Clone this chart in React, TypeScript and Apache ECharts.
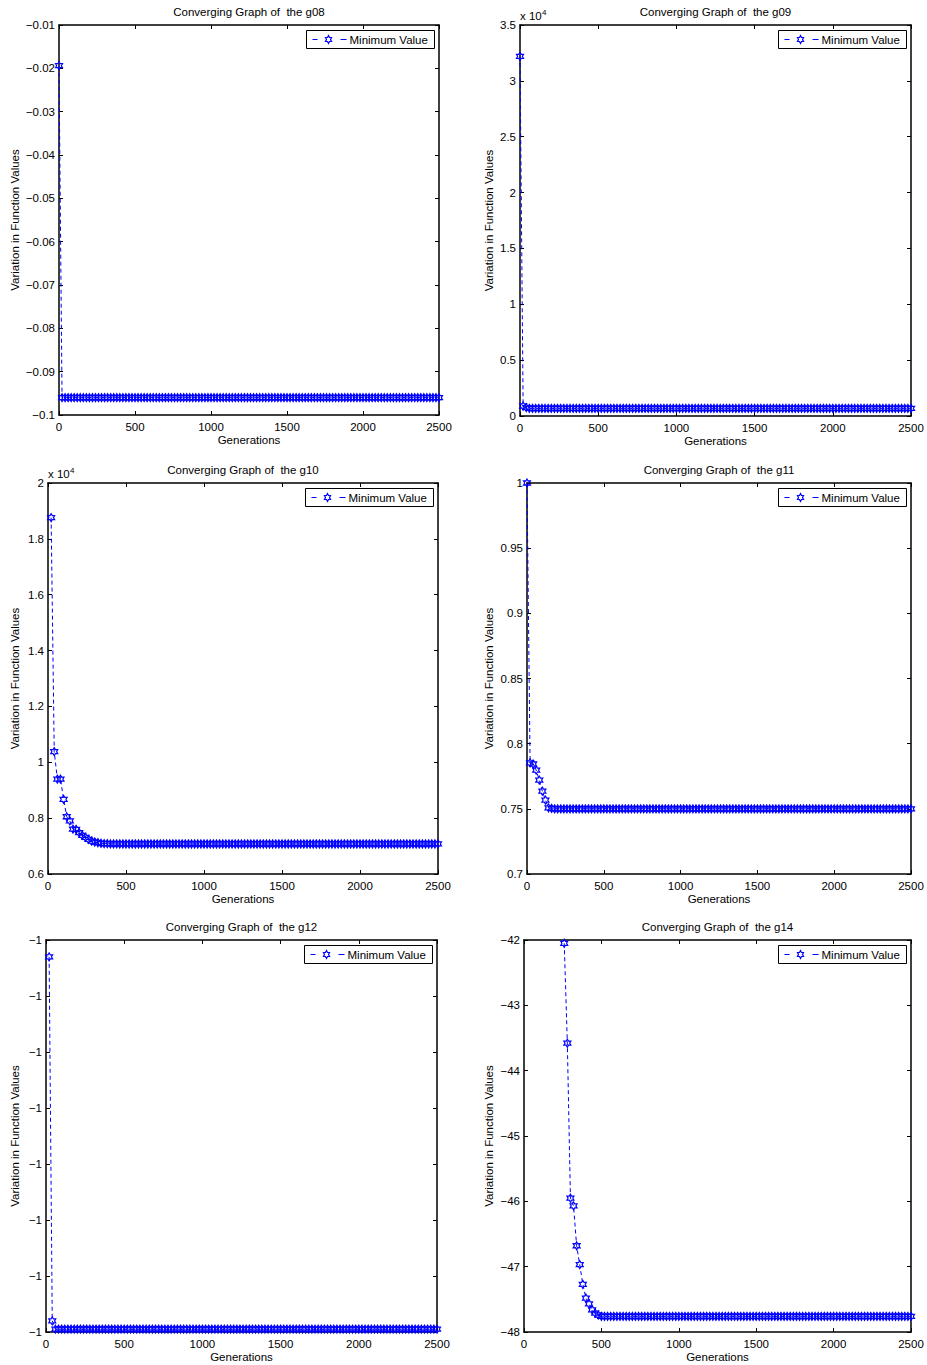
import React, { useEffect, useRef } from 'react';
import * as echarts from 'echarts';

// ---------- DATA ----------
const generations = [
  0, 20, 40, 60, 80, 100, 120, 140, 160, 180,
  200, 220, 240, 260, 280, 300, 320, 340, 360, 380,
  400, 420, 440, 460, 480, 500, 520, 540, 560, 580,
  600, 620, 640, 660, 680, 700, 720, 740, 760, 780,
  800, 820, 840, 860, 880, 900, 920, 940, 960, 980,
  1000, 1020, 1040, 1060, 1080, 1100, 1120, 1140, 1160, 1180,
  1200, 1220, 1240, 1260, 1280, 1300, 1320, 1340, 1360, 1380,
  1400, 1420, 1440, 1460, 1480, 1500, 1520, 1540, 1560, 1580,
  1600, 1620, 1640, 1660, 1680, 1700, 1720, 1740, 1760, 1780,
  1800, 1820, 1840, 1860, 1880, 1900, 1920, 1940, 1960, 1980,
  2000, 2020, 2040, 2060, 2080, 2100, 2120, 2140, 2160, 2180,
  2200, 2220, 2240, 2260, 2280, 2300, 2320, 2340, 2360, 2380,
  2400, 2420, 2440, 2460, 2480, 2500,
];

const g08Values = [
  -0.0194, -0.096, -0.096, -0.096, -0.096, -0.096, -0.096, -0.096, -0.096, -0.096,
  -0.096, -0.096, -0.096, -0.096, -0.096, -0.096, -0.096, -0.096, -0.096, -0.096,
  -0.096, -0.096, -0.096, -0.096, -0.096, -0.096, -0.096, -0.096, -0.096, -0.096,
  -0.096, -0.096, -0.096, -0.096, -0.096, -0.096, -0.096, -0.096, -0.096, -0.096,
  -0.096, -0.096, -0.096, -0.096, -0.096, -0.096, -0.096, -0.096, -0.096, -0.096,
  -0.096, -0.096, -0.096, -0.096, -0.096, -0.096, -0.096, -0.096, -0.096, -0.096,
  -0.096, -0.096, -0.096, -0.096, -0.096, -0.096, -0.096, -0.096, -0.096, -0.096,
  -0.096, -0.096, -0.096, -0.096, -0.096, -0.096, -0.096, -0.096, -0.096, -0.096,
  -0.096, -0.096, -0.096, -0.096, -0.096, -0.096, -0.096, -0.096, -0.096, -0.096,
  -0.096, -0.096, -0.096, -0.096, -0.096, -0.096, -0.096, -0.096, -0.096, -0.096,
  -0.096, -0.096, -0.096, -0.096, -0.096, -0.096, -0.096, -0.096, -0.096, -0.096,
  -0.096, -0.096, -0.096, -0.096, -0.096, -0.096, -0.096, -0.096, -0.096, -0.096,
  -0.096, -0.096, -0.096, -0.096, -0.096, -0.096,
];

const g09Values = [
  32200, 895, 745, 690, 690, 690, 690, 690, 690, 690,
  690, 690, 690, 690, 690, 690, 690, 690, 690, 690,
  690, 690, 690, 690, 690, 690, 690, 690, 690, 690,
  690, 690, 690, 690, 690, 690, 690, 690, 690, 690,
  690, 690, 690, 690, 690, 690, 690, 690, 690, 690,
  690, 690, 690, 690, 690, 690, 690, 690, 690, 690,
  690, 690, 690, 690, 690, 690, 690, 690, 690, 690,
  690, 690, 690, 690, 690, 690, 690, 690, 690, 690,
  690, 690, 690, 690, 690, 690, 690, 690, 690, 690,
  690, 690, 690, 690, 690, 690, 690, 690, 690, 690,
  690, 690, 690, 690, 690, 690, 690, 690, 690, 690,
  690, 690, 690, 690, 690, 690, 690, 690, 690, 690,
  690, 690, 690, 690, 690, 690,
];

const g10Values = [
  null, 18760, 10380, 9400, 9400, 8675, 8050, 7900, 7610, 7600,
  7480, 7386, 7310, 7240, 7180, 7146, 7120, 7100, 7090, 7085,
  7080, 7078, 7076, 7075, 7075, 7075, 7075, 7075, 7075, 7075,
  7075, 7075, 7075, 7075, 7075, 7075, 7075, 7075, 7075, 7075,
  7075, 7075, 7075, 7075, 7075, 7075, 7075, 7075, 7075, 7075,
  7075, 7075, 7075, 7075, 7075, 7075, 7075, 7075, 7075, 7075,
  7075, 7075, 7075, 7075, 7075, 7075, 7075, 7075, 7075, 7075,
  7075, 7075, 7075, 7075, 7075, 7075, 7075, 7075, 7075, 7075,
  7075, 7075, 7075, 7075, 7075, 7075, 7075, 7075, 7075, 7075,
  7075, 7075, 7075, 7075, 7075, 7075, 7075, 7075, 7075, 7075,
  7075, 7075, 7075, 7075, 7075, 7075, 7075, 7075, 7075, 7075,
  7075, 7075, 7075, 7075, 7075, 7075, 7075, 7075, 7075, 7075,
  7075, 7075, 7075, 7075, 7075, 7075,
];

const g11Values = [
  1.0, 0.7853, 0.7844, 0.7797, 0.772, 0.7636, 0.7567, 0.7508, 0.7504, 0.75,
  0.75, 0.75, 0.75, 0.75, 0.75, 0.75, 0.75, 0.75, 0.75, 0.75,
  0.75, 0.75, 0.75, 0.75, 0.75, 0.75, 0.75, 0.75, 0.75, 0.75,
  0.75, 0.75, 0.75, 0.75, 0.75, 0.75, 0.75, 0.75, 0.75, 0.75,
  0.75, 0.75, 0.75, 0.75, 0.75, 0.75, 0.75, 0.75, 0.75, 0.75,
  0.75, 0.75, 0.75, 0.75, 0.75, 0.75, 0.75, 0.75, 0.75, 0.75,
  0.75, 0.75, 0.75, 0.75, 0.75, 0.75, 0.75, 0.75, 0.75, 0.75,
  0.75, 0.75, 0.75, 0.75, 0.75, 0.75, 0.75, 0.75, 0.75, 0.75,
  0.75, 0.75, 0.75, 0.75, 0.75, 0.75, 0.75, 0.75, 0.75, 0.75,
  0.75, 0.75, 0.75, 0.75, 0.75, 0.75, 0.75, 0.75, 0.75, 0.75,
  0.75, 0.75, 0.75, 0.75, 0.75, 0.75, 0.75, 0.75, 0.75, 0.75,
  0.75, 0.75, 0.75, 0.75, 0.75, 0.75, 0.75, 0.75, 0.75, 0.75,
  0.75, 0.75, 0.75, 0.75, 0.75, 0.75,
];

const g12Values = [
  null, -0.99946, -1.00076, -1.00079, -1.00079, -1.00079, -1.00079, -1.00079, -1.00079, -1.00079,
  -1.00079, -1.00079, -1.00079, -1.00079, -1.00079, -1.00079, -1.00079, -1.00079, -1.00079, -1.00079,
  -1.00079, -1.00079, -1.00079, -1.00079, -1.00079, -1.00079, -1.00079, -1.00079, -1.00079, -1.00079,
  -1.00079, -1.00079, -1.00079, -1.00079, -1.00079, -1.00079, -1.00079, -1.00079, -1.00079, -1.00079,
  -1.00079, -1.00079, -1.00079, -1.00079, -1.00079, -1.00079, -1.00079, -1.00079, -1.00079, -1.00079,
  -1.00079, -1.00079, -1.00079, -1.00079, -1.00079, -1.00079, -1.00079, -1.00079, -1.00079, -1.00079,
  -1.00079, -1.00079, -1.00079, -1.00079, -1.00079, -1.00079, -1.00079, -1.00079, -1.00079, -1.00079,
  -1.00079, -1.00079, -1.00079, -1.00079, -1.00079, -1.00079, -1.00079, -1.00079, -1.00079, -1.00079,
  -1.00079, -1.00079, -1.00079, -1.00079, -1.00079, -1.00079, -1.00079, -1.00079, -1.00079, -1.00079,
  -1.00079, -1.00079, -1.00079, -1.00079, -1.00079, -1.00079, -1.00079, -1.00079, -1.00079, -1.00079,
  -1.00079, -1.00079, -1.00079, -1.00079, -1.00079, -1.00079, -1.00079, -1.00079, -1.00079, -1.00079,
  -1.00079, -1.00079, -1.00079, -1.00079, -1.00079, -1.00079, -1.00079, -1.00079, -1.00079, -1.00079,
  -1.00079, -1.00079, -1.00079, -1.00079, -1.00079, -1.00079,
];

const g14Values = [
  null, null, null, null, null, null, null, null, null, null,
  null, null, null, -42.05, -43.58, -45.95, -46.07, -46.68, -46.97, -47.27,
  -47.48, -47.57, -47.66, -47.71, -47.74, -47.76, -47.76, -47.76, -47.76, -47.76,
  -47.76, -47.76, -47.76, -47.76, -47.76, -47.76, -47.76, -47.76, -47.76, -47.76,
  -47.76, -47.76, -47.76, -47.76, -47.76, -47.76, -47.76, -47.76, -47.76, -47.76,
  -47.76, -47.76, -47.76, -47.76, -47.76, -47.76, -47.76, -47.76, -47.76, -47.76,
  -47.76, -47.76, -47.76, -47.76, -47.76, -47.76, -47.76, -47.76, -47.76, -47.76,
  -47.76, -47.76, -47.76, -47.76, -47.76, -47.76, -47.76, -47.76, -47.76, -47.76,
  -47.76, -47.76, -47.76, -47.76, -47.76, -47.76, -47.76, -47.76, -47.76, -47.76,
  -47.76, -47.76, -47.76, -47.76, -47.76, -47.76, -47.76, -47.76, -47.76, -47.76,
  -47.76, -47.76, -47.76, -47.76, -47.76, -47.76, -47.76, -47.76, -47.76, -47.76,
  -47.76, -47.76, -47.76, -47.76, -47.76, -47.76, -47.76, -47.76, -47.76, -47.76,
  -47.76, -47.76, -47.76, -47.76, -47.76, -47.76,
];

const panelTitles = [
  'Converging Graph of  the g08',
  'Converging Graph of  the g09',
  'Converging Graph of  the g10',
  'Converging Graph of  the g11',
  'Converging Graph of  the g12',
  'Converging Graph of  the g14',
];
const xAxisTitle = 'Generations';
const yAxisTitle = 'Variation in Function Values';
const legendLabel = 'Minimum Value';

// ---------- STYLE / LAYOUT ----------
const FONT = '"Liberation Sans", Arial, Helvetica, sans-serif';
const FS = 11.5;
const BLUE = '#0000ff';
const HEX =
  'path://M50 0L64.43 25L93.3 25L78.87 50L93.3 75L64.43 75L50 100L35.57 75L6.7 75L21.13 50L6.7 25L35.57 25Z';

const MINUS = '\u2212';
function fmtNum(v: number, scale = 1): string {
  const s = String(parseFloat((v / scale).toFixed(6)));
  return s.replace('-', MINUS);
}

type Panel = {
  values: (number | null)[];
  left: number;
  top: number;
  width: number;
  height: number;
  ymin: number;
  ymax: number;
  yint: number;
  fmt: (v: number) => string;
  nameGap: number;
  exp?: boolean;
};

const panels: Panel[] = [
  { values: g08Values, left: 59, top: 25, width: 380, height: 390, ymin: -0.1, ymax: -0.01, yint: 0.01, fmt: (v) => fmtNum(v), nameGap: 38 },
  { values: g09Values, left: 520, top: 25, width: 391, height: 391, ymin: 0, ymax: 35000, yint: 5000, fmt: (v) => fmtNum(v, 10000), nameGap: 25, exp: true },
  { values: g10Values, left: 48, top: 483, width: 390, height: 391, ymin: 6000, ymax: 20000, yint: 2000, fmt: (v) => fmtNum(v, 10000), nameGap: 27, exp: true },
  { values: g11Values, left: 527, top: 483, width: 384, height: 391, ymin: 0.7, ymax: 1, yint: 0.05, fmt: (v) => fmtNum(v), nameGap: 32 },
  { values: g12Values, left: 46, top: 940, width: 391, height: 392, ymin: -1.0008, ymax: -0.9994, yint: 0.0002, fmt: (v) => fmtNum(Math.round(v)), nameGap: 25 },
  { values: g14Values, left: 524, top: 940, width: 387, height: 392, ymin: -48, ymax: -42, yint: 1, fmt: (v) => fmtNum(v), nameGap: 29 },
];

function hexPoints(cx: number, cy: number, rx: number, ry: number): number[][] {
  const pts: number[][] = [];
  for (let k = 0; k < 12; k++) {
    const a = (-90 + k * 30) * (Math.PI / 180);
    const r = k % 2 === 0 ? 1 : 0.5774;
    pts.push([cx + rx * r * Math.cos(a), cy + ry * r * Math.sin(a)]);
  }
  return pts;
}

function buildOption() {
  const textBase = { color: '#000', fontSize: FS, fontFamily: FONT };
  const grid: any[] = [];
  const xAxis: any[] = [];
  const yAxis: any[] = [];
  const series: any[] = [];
  const title: any[] = [];
  const graphic: any[] = [];

  panels.forEach((p, i) => {
    grid.push({ left: p.left, top: p.top, width: p.width, height: p.height, show: false, containLabel: false });
    const axisLine = { show: true, onZero: false, lineStyle: { color: '#000', width: 1.5 } };
    const axisTick = { show: true, inside: true, length: 4, lineStyle: { color: '#000', width: 1 } };
    xAxis.push({
      gridIndex: i, type: 'value', position: 'bottom', min: 0, max: 2500, interval: 500,
      axisLine, axisTick, splitLine: { show: false },
      axisLabel: { ...textBase, margin: 6, showMinLabel: true, showMaxLabel: true, formatter: (v: number) => fmtNum(v) },
      name: xAxisTitle, nameLocation: 'middle', nameGap: 19, nameTextStyle: textBase,
    });
    xAxis.push({
      gridIndex: i, type: 'value', position: 'top', min: 0, max: 2500, interval: 500,
      axisLine, axisTick, splitLine: { show: false }, axisLabel: { show: false },
    });
    yAxis.push({
      gridIndex: i, type: 'value', position: 'left', min: p.ymin, max: p.ymax, interval: p.yint,
      axisLine, axisTick, splitLine: { show: false },
      axisLabel: { ...textBase, margin: 4, showMinLabel: true, showMaxLabel: true, formatter: p.fmt },
      name: yAxisTitle, nameLocation: 'middle', nameGap: p.nameGap, nameTextStyle: textBase,
    });
    yAxis.push({
      gridIndex: i, type: 'value', position: 'right', min: p.ymin, max: p.ymax, interval: p.yint,
      axisLine, axisTick, splitLine: { show: false }, axisLabel: { show: false },
    });

    const data: any[] = [];
    const n = Math.min(generations.length, p.values.length);
    for (let k = 0; k < n; k++) {
      const v = p.values[k];
      if (v !== null && v !== undefined) data.push([generations[k], v]);
    }
    series.push({
      type: 'line', name: legendLabel, xAxisIndex: 2 * i, yAxisIndex: 2 * i, data,
      symbol: HEX, symbolSize: [7, 8], showSymbol: true, showAllSymbol: true,
      itemStyle: { color: 'none', borderColor: BLUE, borderWidth: 1.2 },
      lineStyle: { color: BLUE, width: 1, type: [4, 3] },
      clip: true, z: 3,
    });

    title.push({
      text: panelTitles[i], left: p.left + p.width / 2, top: p.top - 19, textAlign: 'center', padding: 0,
      textStyle: { ...textBase, fontWeight: 'normal' },
    });

    // legend box
    const R = p.left + p.width - 5;
    const L = R - 128 + 0.5;
    const T = p.top + 5 + 0.5;
    const cy = T + 9;
    graphic.push({
      type: 'group', z: 100,
      children: [
        { type: 'rect', z: 100, shape: { x: L, y: T, width: 128, height: 18 }, style: { fill: '#fff', stroke: '#000', lineWidth: 1 } },
        { type: 'line', z: 101, shape: { x1: L + 6, y1: cy, x2: L + 11, y2: cy }, style: { stroke: BLUE, lineWidth: 1 } },
        { type: 'polygon', z: 101, shape: { points: hexPoints(L + 22, cy, 3.5, 4) }, style: { fill: 'none', stroke: BLUE, lineWidth: 1.2 } },
        { type: 'line', z: 101, shape: { x1: L + 34, y1: cy, x2: L + 40, y2: cy }, style: { stroke: BLUE, lineWidth: 1 } },
        {
          type: 'text', z: 101, x: L + 43, y: cy,
          style: { text: legendLabel, fill: '#000', fontSize: FS, fontFamily: FONT, textAlign: 'left', textVerticalAlign: 'middle', verticalAlign: 'middle' },
        },
      ],
    });

    if (p.exp) {
      graphic.push({
        type: 'text', z: 101, x: p.left, y: p.top - 9,
        style: { text: 'x 10', fill: '#000', fontSize: FS, fontFamily: FONT, textAlign: 'left', textVerticalAlign: 'middle', verticalAlign: 'middle' },
      });
      graphic.push({
        type: 'text', z: 101, x: p.left + 22, y: p.top - 13,
        style: { text: '4', fill: '#000', fontSize: 8, fontFamily: FONT, textAlign: 'left', textVerticalAlign: 'middle', verticalAlign: 'middle' },
      });
    }
  });

  return {
    animation: false,
    backgroundColor: '#fff',
    title,
    grid,
    xAxis,
    yAxis,
    series,
    graphic,
  };
}

export default function App() {
  const ref = useRef<HTMLDivElement>(null);
  useEffect(() => {
    document.body.style.margin = '0';
    if (!ref.current) return;
    const chart = echarts.init(ref.current, undefined, { renderer: 'svg' });
    chart.setOption(buildOption() as any);
    return () => chart.dispose();
  }, []);
  return (
    <div
      ref={ref}
      style={{ position: 'absolute', left: 0, top: 0, width: 927, height: 1365, background: '#fff' }}
    />
  );
}
